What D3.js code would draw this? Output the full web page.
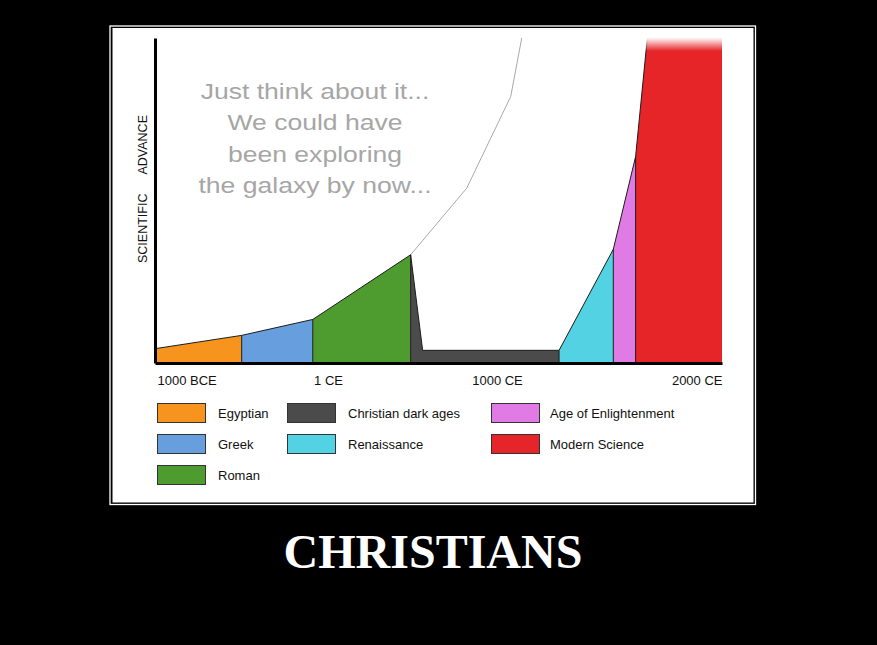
<!DOCTYPE html>
<html lang="en">
<head>
    <meta charset="UTF-8">
    <title>Scientific advance</title>
    <style>
        body { margin: 0; background: #000; }
        svg { display: block; }
        text { font-family: "Liberation Sans", Arial, sans-serif; }
        text.title { font-family: "Liberation Serif", "Times New Roman", serif; }
    </style>
</head>
<body>
    <script src="https://d3js.org/d3.v7.min.js"></script>
    <script>
        // eras, top edge of each era as [year, advance]
        var eras = ["Egyptian", "Greek", "Roman", "Christian dark ages", "Renaissance", "Age of Enlightenment", "Modern Science"];
        var eraColors = ["#f7941d", "#679fde", "#4e9b2f", "#4b4b4b", "#52d2e2", "#e07ae4", "#e52528"];
        var egyptian = [[-1000, 4.4], [-499, 8.5]];
        var greek = [[-499, 8.5], [-88, 13.4]];
        var roman = [[-88, 13.4], [489, 33.3]];
        var darkAges = [[489, 33.3], [560, 3.9], [1276, 3.9]];
        var renaissance = [[1276, 3.9], [1517, 35]];
        var enlightenment = [[1517, 35], [1616, 63.5]];
        var modern = [[1616, 63.5], [1668, 100], [2000, 100]];
        var eraPoints = [egyptian, greek, roman, darkAges, renaissance, enlightenment, modern];

        // what could have been
        var couldHaveYears = [489, 821, 1061, 1110];
        var couldHaveValues = [33.3, 53.8, 82, 100];

        var tickYears = [-1000, 0, 1000, 2000];
        var tickLabels = ["1000 BCE", "1 CE", "1000 CE", "2000 CE"];
        var noteLines = ["Just think about it...", "We could have", "been exploring", "the galaxy by now..."];

        var W = 877, H = 645;
        var svg = d3.select("body").append("svg")
            .attr("width", W)
            .attr("height", H);

        svg.append("rect").attr("width", W).attr("height", H).attr("fill", "#000");
        // poster frame
        svg.append("rect")
            .attr("x", 110).attr("y", 26).attr("width", 645.5).attr("height", 478.5)
            .attr("fill", "none").attr("stroke", "#fff").attr("stroke-width", 1.3);
        svg.append("rect")
            .attr("x", 112.5).attr("y", 28).attr("width", 641).attr("height", 474.5)
            .attr("fill", "#fff");

        var x = d3.scaleLinear()
            .domain(tickYears)
            .range([155, 328, 497, 722]);
        var y = d3.scaleLinear()
            .domain([0, 100])
            .range([363, 38]);

        var defs = svg.append("defs");
        var grad = defs.append("linearGradient")
            .attr("id", "fade").attr("x1", 0).attr("y1", 0).attr("x2", 0).attr("y2", 1);
        grad.append("stop").attr("offset", "0%").attr("stop-color", "#fff").attr("stop-opacity", 1);
        grad.append("stop").attr("offset", "20%").attr("stop-color", "#fff").attr("stop-opacity", 0.9);
        grad.append("stop").attr("offset", "100%").attr("stop-color", "#fff").attr("stop-opacity", 0);

        // note text
        var note = svg.append("g")
            .attr("transform", "translate(315,0) scale(1.18,1)");
        note.selectAll("text")
            .data(noteLines)
            .enter()
            .append("text")
            .attr("x", 0)
            .attr("y", function(d, i) { return 99 + i * 31.3; })
            .attr("text-anchor", "middle")
            .attr("font-size", "22.5px")
            .attr("fill", "#a6a6a6")
            .text(function(d) { return d; });

        // could-have-been curve
        svg.append("path")
            .datum(couldHaveYears.map(function(d, i) { return [d, couldHaveValues[i]]; }))
            .attr("fill", "none")
            .attr("stroke", "#a9a9a9")
            .attr("stroke-width", 1)
            .attr("d", d3.line()
                .x(function(d) { return x(d[0]); })
                .y(function(d) { return y(d[1]); }));

        var area = d3.area()
            .x(function(d) { return x(d[0]); })
            .y0(y(0))
            .y1(function(d) { return y(d[1]); });
        var topLine = d3.line()
            .x(function(d) { return x(d[0]); })
            .y(function(d) { return y(d[1]); });

        svg.selectAll(".era")
            .data(eraPoints)
            .enter()
            .append("path")
            .attr("class", "era")
            .attr("fill", function(d, i) { return eraColors[i]; })
            .attr("d", area);

        // era borders
        svg.selectAll(".eraTop")
            .data(eraPoints)
            .enter()
            .append("path")
            .attr("class", "eraTop")
            .attr("fill", "none")
            .attr("stroke", "#1c1c1c")
            .attr("stroke-width", 1)
            .attr("d", function(d, i) { return topLine(i == eraPoints.length - 1 ? d.slice(0, 2) : d); });
        svg.selectAll(".eraSide")
            .data(eraPoints.slice(1))
            .enter()
            .append("line")
            .attr("class", "eraSide")
            .attr("x1", function(d) { return x(d[0][0]); })
            .attr("x2", function(d) { return x(d[0][0]); })
            .attr("y1", y(0))
            .attr("y2", function(d) { return y(d[0][1]); })
            .attr("stroke", "#1c1c1c")
            .attr("stroke-width", 1);

        // fade at the top of modern science
        svg.append("rect")
            .attr("x", x(modern[1][0]) - 6)
            .attr("y", y(100) - 2)
            .attr("width", x(2000) - x(modern[1][0]) + 8)
            .attr("height", 15)
            .attr("fill", "url(#fade)");

        // axes
        var xAxis = svg.append("g")
            .attr("transform", "translate(0," + y(0) + ")")
            .call(d3.axisBottom(x)
                .tickValues(tickYears)
                .tickFormat(function(d, i) { return tickLabels[i]; })
                .tickSize(0)
                .tickSizeOuter(0)
                .tickPadding(12.5));
        xAxis.select(".domain").attr("stroke", "#000").attr("stroke-width", 3);
        xAxis.selectAll("text")
            .attr("font-size", "13px")
            .attr("fill", "#111")
            .attr("text-anchor", function(d, i) { return i == 0 ? "start" : (i == tickYears.length - 1 ? "end" : "middle"); })
            .attr("dx", function(d, i) { return i == 0 ? 2 : 0; });

        var yAxis = svg.append("g")
            .attr("transform", "translate(" + x(-1000) + ",0)")
            .call(d3.axisLeft(y).ticks(0).tickSizeOuter(0));
        yAxis.select(".domain").attr("stroke", "#000").attr("stroke-width", 3);

        svg.append("text")
            .attr("transform", "translate(147,263) rotate(-90)")
            .attr("font-size", "12.5px")
            .attr("fill", "#111")
            .text("SCIENTIFIC");
        svg.append("text")
            .attr("transform", "translate(147,115) rotate(-90)")
            .attr("text-anchor", "end")
            .attr("font-size", "12.5px")
            .attr("fill", "#111")
            .text("ADVANCE");

        // legend, filled column by column
        var legendCols = [157, 287, 491];
        var legendRows = [403, 434, 465];
        var legendPlace = [[0, 0], [0, 1], [0, 2], [1, 0], [1, 1], [2, 0], [2, 1]];
        var legend = svg.selectAll(".legend")
            .data(eras)
            .enter()
            .append("g")
            .attr("class", "legend")
            .attr("transform", function(d, i) {
                return "translate(" + legendCols[legendPlace[i][0]] + "," + legendRows[legendPlace[i][1]] + ")";
            });
        legend.append("rect")
            .attr("x", 0.5).attr("y", 0.5)
            .attr("width", 48).attr("height", 19)
            .attr("fill", function(d, i) { return eraColors[i]; })
            .attr("stroke", "#333")
            .attr("stroke-width", 1);
        legend.append("text")
            .attr("x", function(d, i) { return legendPlace[i][0] == 2 ? 59 : 61; })
            .attr("y", 14.5)
            .attr("font-size", "13px")
            .attr("fill", "#111")
            .text(function(d) { return d; });

        // poster title
        svg.append("text")
            .attr("class", "title")
            .attr("x", 433)
            .attr("y", 568)
            .attr("text-anchor", "middle")
            .attr("font-weight", "bold")
            .attr("font-size", "48px")
            .attr("fill", "#fff")
            .text("CHRISTIANS");
    </script>
</body>
</html>
